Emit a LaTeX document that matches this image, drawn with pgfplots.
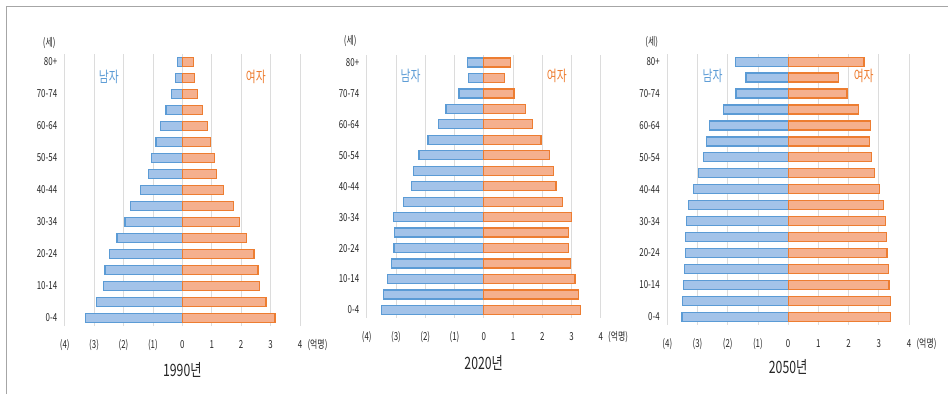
\documentclass[border=0pt]{standalone}
\usepackage{fontspec}
\setmainfont{Noto Sans CJK KR}[FakeStretch=0.72]
\usepackage{pgfplots}
\usepackage{pgfplotstable}
\pgfplotsset{compat=1.18}

\definecolor{mline}{HTML}{5B9BD5}
\definecolor{mfill}{HTML}{A3C3E9}
\definecolor{fline}{HTML}{ED7D31}
\definecolor{ffill}{HTML}{F5B08E}
\definecolor{gridc}{HTML}{DCDCDC}
\definecolor{txt}{HTML}{262626}
\definecolor{framec}{HTML}{A6A6A6}

% idx: age group (0 = 0-4, ..., 16 = 80+); values in 100 million persons
\pgfplotstableread{
idx male female
0  -3.29 3.15
1  -2.93 2.84
2  -2.69 2.62
3  -2.63 2.57
4  -2.48 2.44
5  -2.22 2.19
6  -1.95 1.94
7  -1.76 1.75
8  -1.42 1.41
9  -1.14 1.17
10 -1.05 1.10
11 -0.90 0.96
12 -0.75 0.86
13 -0.56 0.69
14 -0.36 0.51
15 -0.24 0.41
16 -0.16 0.39
}\popA

\pgfplotstableread{
idx male female
0  -3.49 3.32
1  -3.43 3.24
2  -3.29 3.12
3  -3.16 2.97
4  -3.07 2.91
5  -3.05 2.91
6  -3.08 2.99
7  -2.75 2.70
8  -2.48 2.47
9  -2.39 2.39
10 -2.21 2.26
11 -1.90 1.96
12 -1.55 1.68
13 -1.29 1.44
14 -0.84 1.04
15 -0.52 0.71
16 -0.55 0.92
}\popB

\pgfplotstableread{
idx male female
0  -3.51 3.39
1  -3.49 3.38
2  -3.47 3.34
3  -3.42 3.31
4  -3.39 3.27
5  -3.39 3.25
6  -3.37 3.22
7  -3.30 3.16
8  -3.13 3.02
9  -2.96 2.85
10 -2.80 2.75
11 -2.70 2.70
12 -2.60 2.72
13 -2.15 2.32
14 -1.73 1.95
15 -1.40 1.67
16 -1.74 2.51
}\popC

\pgfplotsset{
  pyr/.style={
    scale only axis,
    xbar, bar width=9pt, bar shift=0pt,
    xmin=-4, xmax=4, ymin=-0.5, ymax=16.5,
    axis line style={draw=none},
    major tick length=0pt,
    xmajorgrids, grid style={draw=gridc, line width=0.7pt},
    xtick={-4,...,4},
    xticklabels={(4),(3),(2),(1),0,1,2,3,4},
    ytick={0,2,...,16},
    yticklabels={0-4,10-14,20-24,30-34,40-44,50-54,60-64,70-74,80+},
    /pgf/number format/assume math mode=true,
    tick label style={font=\fontsize{11}{12}\selectfont, text=txt},
    xticklabel style={anchor=base, yshift=-22.5pt},
    yticklabel style={xshift=-4pt},
    clip=false,
  },
  mbar/.style={draw=mline, fill=mfill, line width=1.3pt},
  fbar/.style={draw=fline, fill=ffill, line width=1.3pt},
}

\newcommand{\sexlabels}{%
  \node[text=mline, font=\fontsize{15}{16}\selectfont] at (axis cs:-2.5,15.1) {남자};
  \node[text=fline, font=\fontsize{15}{16}\selectfont] at (axis cs:2.5,15.1) {여자};
  \node[anchor=base west, text=txt, font=\fontsize{11}{12}\selectfont]
    at (rel axis cs:1,0) [xshift=4pt, yshift=-22.5pt] {(억명)};
}

\begin{document}
\begin{tikzpicture}
\path[use as bounding box] (0,0) rectangle (948pt,394pt);
\draw[framec, line width=1pt] (6pt,0) -- (6pt,387pt) -- (948pt,387pt);

% 1990
\begin{axis}[pyr, at={(64.7pt,68pt)}, anchor=south west, width=235.3pt, height=272pt]
  \addplot[mbar] table[x=male, y=idx] {\popA};
  \addplot[fbar] table[x=female, y=idx] {\popA};
  \sexlabels
  \node[text=txt, font=\fontsize{11}{12}\selectfont] at (rel axis cs:0,1) [xshift=-15.5pt, yshift=11pt] {(세)};
  \node[text=txt, font=\fontsize{17}{18}\selectfont] at (rel axis cs:0.5,0) [yshift=-44pt] {1990년};
\end{axis}

% 2020
\begin{axis}[pyr, at={(366.7pt,76.3pt)}, anchor=south west, width=234pt, height=263pt]
  \addplot[mbar] table[x=male, y=idx] {\popB};
  \addplot[fbar] table[x=female, y=idx] {\popB};
  \sexlabels
  \node[text=txt, font=\fontsize{11}{12}\selectfont] at (rel axis cs:0,1) [xshift=-16.5pt, yshift=14pt] {(세)};
  \node[text=txt, font=\fontsize{17}{18}\selectfont] at (rel axis cs:0.5,0) [yshift=-45pt] {2020년};
\end{axis}

% 2050
\begin{axis}[pyr, at={(667.3pt,69.3pt)}, anchor=south west, width=241.7pt, height=271pt]
  \addplot[mbar] table[x=male, y=idx] {\popC};
  \addplot[fbar] table[x=female, y=idx] {\popC};
  \sexlabels
  \node[text=txt, font=\fontsize{11}{12}\selectfont] at (rel axis cs:0,1) [xshift=-15.5pt, yshift=12pt] {(세)};
  \node[text=txt, font=\fontsize{17}{18}\selectfont] at (rel axis cs:0.5,0) [yshift=-42pt] {2050년};
\end{axis}
\end{tikzpicture}
\end{document}
